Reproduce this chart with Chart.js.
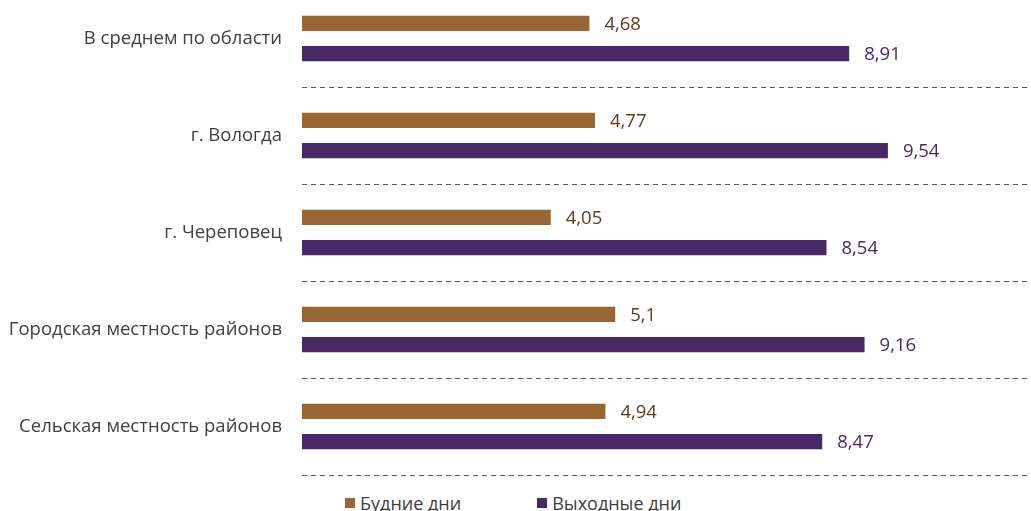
<!DOCTYPE html>
<html>
<head>
<meta charset="utf-8">
<script src="https://cdn.jsdelivr.net/npm/chart.js@4"></script>
<style>
    html, body { margin: 0; padding: 0; background: #fff; overflow: hidden; }
    #wrap { position: relative; width: 1031px; height: 511px; }
    #box { position: absolute; left: 0; top: -10px; width: 1031px; height: 487px; }
    #legend {
        position: absolute; left: 345px; top: 491px;
        font-family: "Open Sans", sans-serif; font-size: 18px; color: #404040;
        display: flex; white-space: nowrap;
    }
    #legend .item { display: flex; align-items: center; margin-right: 76px; }
    #legend .sw { width: 10px; height: 10px; margin-right: 5px; }
</style>
</head>
<body>
<div id="wrap">
    <div id="box"><canvas id="chart"></canvas></div>
    <div id="legend"></div>
</div>
<script>
// ======================================
// Data
// ======================================
const categories = [
    "В среднем по области",
    "г. Вологда",
    "г. Череповец",
    "Городская местность районов",
    "Сельская местность районов"
];
const seriesNames = ["Будние дни", "Выходные дни"];
const weekdays = [4.68, 4.77, 4.05, 5.1, 4.94];
const weekends = [8.91, 9.54, 8.54, 9.16, 8.47];

const barColors = ["#996633", "#482966"];
const labelColors = ["#5a3e22", "#482966"];
const FONT = "\"Open Sans\", sans-serif";
const FONT_SIZE = 18.5;

// ======================================
// Value labels next to bars
// ======================================
const valueLabels = {
    id: "valueLabels",
    afterDatasetsDraw(chart) {
        const ctx = chart.ctx;
        ctx.save();
        ctx.font = FONT_SIZE + "px " + FONT;
        ctx.textAlign = "left";
        ctx.textBaseline = "middle";
        chart.data.datasets.forEach((ds, i) => {
            const meta = chart.getDatasetMeta(i);
            ctx.fillStyle = labelColors[i];
            meta.data.forEach((bar, j) => {
                const txt = String(ds.data[j]).replace(".", ",");
                ctx.fillText(txt, bar.x + 15, bar.y + 1);
            });
        });
        ctx.restore();
    }
};

// ======================================
// Chart
// ======================================
const ctx = document.getElementById("chart").getContext("2d");

const chart = new Chart(ctx, {
    type: "bar",
    data: {
        labels: categories,
        datasets: [
            { label: seriesNames[0], data: weekdays, backgroundColor: barColors[0] },
            { label: seriesNames[1], data: weekends, backgroundColor: barColors[1] }
        ]
    },
    options: {
        indexAxis: "y",
        responsive: true,
        maintainAspectRatio: false,
        animation: false,
        layout: { padding: { top: 0, right: 0, bottom: 2, left: 0 } },
        categoryPercentage: 0.625,
        barPercentage: 0.5,
        scales: {
            x: {
                display: false,
                min: 0,
                max: 11.87
            },
            y: {
                afterFit: (scale) => {
                    scale.width = 302;
                    scale.paddingTop = 0;
                    scale.paddingBottom = 0;
                },
                grid: {
                    offset: true,
                    drawTicks: false,
                    color: "#595959",
                    lineWidth: 1
                },
                border: { display: false, dash: [5, 4] },
                ticks: {
                    padding: 20,
                    color: "#404040",
                    font: { family: FONT, size: FONT_SIZE }
                }
            }
        },
        plugins: {
            legend: { display: false },
            tooltip: { enabled: false }
        }
    },
    plugins: [valueLabels]
});

// ======================================
// Legend (html)
// ======================================
const legendEl = document.getElementById("legend");
seriesNames.forEach((name, i) => {
    const item = document.createElement("div");
    item.className = "item";
    item.innerHTML = `<span class="sw" style="background:${barColors[i]}"></span>${name}`;
    legendEl.appendChild(item);
});
</script>
</body>
</html>
